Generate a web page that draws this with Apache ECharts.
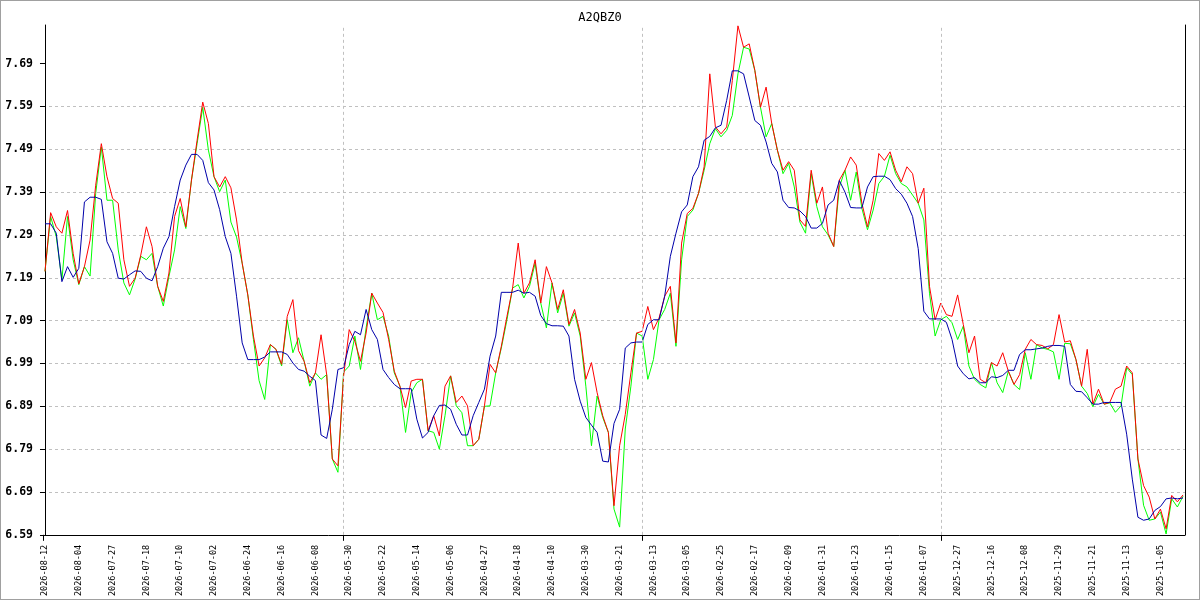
<!DOCTYPE html>
<html>
<head>
<meta charset="utf-8">
<script src="https://cdn.jsdelivr.net/npm/echarts@6/dist/echarts.min.js"></script>
<style>
html,body{margin:0;padding:0;background:#fff;}
#chart{width:1200px;height:600px;box-sizing:border-box;border:1px solid #a0a0a0;}
</style>
</head>
<body>
<div id="chart"></div>
<script>
var chartTitle = 'A2QBZ0';

// x labels, one every 6 points (newest first)
var labelDates = ['2026-08-12','2026-08-04','2026-07-27','2026-07-18','2026-07-10','2026-07-02',
	'2026-06-24','2026-06-16','2026-06-08','2026-05-30','2026-05-22','2026-05-14','2026-05-06',
	'2026-04-27','2026-04-18','2026-04-10','2026-03-30','2026-03-21','2026-03-13','2026-03-05',
	'2026-02-25','2026-02-17','2026-02-09','2026-01-31','2026-01-23','2026-01-15','2026-01-07',
	'2025-12-27','2025-12-16','2025-12-08','2025-11-29','2025-11-21','2025-11-13','2025-11-05'];

// red line
var redLine = [7.205,7.342,7.309,7.294,7.347,7.247,7.176,7.216,7.278,7.406,
	7.503,7.426,7.375,7.364,7.232,7.170,7.189,7.243,7.309,7.263,
	7.170,7.135,7.201,7.333,7.375,7.309,7.418,7.511,7.600,7.550,
	7.426,7.402,7.426,7.400,7.325,7.224,7.150,7.054,6.984,7.003,
	7.034,7.023,6.988,7.100,7.139,7.020,6.995,6.945,6.968,7.057,
	6.964,6.767,6.751,6.960,7.069,7.042,6.995,7.061,7.154,7.131,
	7.109,7.046,6.972,6.937,6.887,6.949,6.953,6.953,6.833,6.868,
	6.821,6.937,6.961,6.899,6.914,6.891,6.798,6.813,6.891,6.988,
	6.968,7.030,7.100,7.166,7.271,7.154,7.178,7.232,7.131,7.216,
	7.178,7.116,7.162,7.081,7.116,7.061,6.953,6.992,6.922,6.868,
	6.829,6.658,6.798,6.871,6.968,7.061,7.065,7.123,7.069,7.096,
	7.147,7.170,7.038,7.271,7.340,7.352,7.387,7.449,7.666,7.542,
	7.526,7.542,7.650,7.778,7.728,7.736,7.674,7.588,7.635,7.550,
	7.488,7.441,7.461,7.441,7.325,7.310,7.441,7.364,7.402,7.294,
	7.263,7.418,7.441,7.472,7.453,7.364,7.309,7.371,7.480,7.464,
	7.484,7.441,7.414,7.449,7.433,7.364,7.399,7.170,7.092,7.131,
	7.104,7.100,7.150,7.081,7.015,7.054,6.953,6.945,6.992,6.984,
	7.015,6.972,6.941,6.964,7.023,7.046,7.034,7.032,7.024,7.034,
	7.104,7.040,7.043,6.999,6.937,7.023,6.895,6.930,6.895,6.899,
	6.930,6.937,6.984,6.968,6.767,6.705,6.678,6.627,6.650,6.604,
	6.682,6.667,6.683];

// green line
var greenLine = [7.205,7.333,7.286,7.185,7.333,7.232,7.174,7.216,7.194,7.387,
	7.495,7.371,7.371,7.255,7.178,7.150,7.187,7.240,7.232,7.247,
	7.170,7.124,7.193,7.255,7.356,7.305,7.418,7.503,7.588,7.488,
	7.426,7.391,7.418,7.320,7.285,7.224,7.150,7.046,6.950,6.906,
	7.034,7.023,6.984,7.092,7.015,7.050,6.995,6.937,6.968,6.953,
	6.964,6.767,6.736,6.970,6.984,7.054,6.976,7.073,7.154,7.092,
	7.100,7.054,6.968,6.937,6.829,6.922,6.945,6.953,6.833,6.829,
	6.790,6.868,6.961,6.891,6.875,6.798,6.798,6.813,6.890,6.891,
	6.968,7.026,7.092,7.166,7.174,7.143,7.170,7.224,7.131,7.073,
	7.178,7.108,7.154,7.077,7.108,7.054,6.937,6.798,6.914,6.864,
	6.829,6.650,6.608,6.837,6.937,7.061,7.054,6.953,6.999,7.092,
	7.116,7.154,7.030,7.232,7.333,7.348,7.387,7.441,7.503,7.538,
	7.519,7.534,7.569,7.666,7.728,7.724,7.674,7.588,7.519,7.550,
	7.488,7.433,7.457,7.402,7.320,7.294,7.433,7.356,7.309,7.290,
	7.263,7.402,7.441,7.371,7.437,7.352,7.302,7.348,7.410,7.427,
	7.476,7.433,7.410,7.402,7.383,7.364,7.325,7.154,7.054,7.092,
	7.100,7.085,7.046,7.077,6.984,6.953,6.941,6.933,6.992,6.945,
	6.922,6.972,6.941,6.929,7.015,6.953,7.034,7.026,7.023,7.017,
	6.953,7.037,7.036,6.999,6.937,6.920,6.889,6.918,6.895,6.898,
	6.876,6.891,6.980,6.964,6.767,6.659,6.624,6.627,6.643,6.592,
	6.674,6.655,6.680];

// blue line
var blueLine = [7.316,7.316,7.294,7.181,7.216,7.191,7.212,7.367,7.378,7.378,
	7.373,7.274,7.247,7.189,7.187,7.197,7.206,7.205,7.189,7.183,
	7.216,7.259,7.286,7.356,7.418,7.453,7.478,7.478,7.464,7.412,
	7.395,7.349,7.286,7.247,7.147,7.038,6.999,6.999,6.999,7.005,
	7.017,7.017,7.017,7.011,6.991,6.976,6.972,6.960,6.950,6.823,
	6.815,6.883,6.976,6.980,7.034,7.065,7.057,7.116,7.069,7.046,
	6.976,6.957,6.941,6.931,6.931,6.931,6.860,6.816,6.829,6.868,
	6.892,6.893,6.883,6.848,6.823,6.823,6.868,6.899,6.930,7.007,
	7.054,7.156,7.156,7.156,7.161,7.154,7.156,7.147,7.102,7.083,
	7.078,7.078,7.077,7.054,6.953,6.902,6.864,6.846,6.829,6.762,
	6.760,6.850,6.883,7.026,7.038,7.040,7.040,7.081,7.092,7.092,
	7.147,7.240,7.294,7.344,7.360,7.426,7.449,7.511,7.520,7.540,
	7.546,7.604,7.673,7.673,7.666,7.612,7.557,7.546,7.507,7.457,
	7.437,7.371,7.354,7.353,7.346,7.333,7.306,7.306,7.317,7.360,
	7.371,7.417,7.390,7.354,7.353,7.353,7.402,7.426,7.427,7.427,
	7.419,7.398,7.385,7.364,7.333,7.258,7.112,7.094,7.094,7.094,
	7.086,7.046,6.984,6.966,6.954,6.957,6.945,6.945,6.959,6.957,
	6.962,6.974,6.974,7.011,7.022,7.022,7.024,7.026,7.030,7.032,
	7.032,7.030,6.941,6.925,6.924,6.910,6.895,6.895,6.899,6.899,
	6.899,6.899,6.825,6.720,6.631,6.624,6.627,6.647,6.656,6.674,
	6.676,6.674,6.676];

var yTicks = [6.59,6.69,6.79,6.89,6.99,7.09,7.19,7.29,7.39,7.49,7.59,7.69];
var vGrid = [53,106,159];   // dotted vertical lines
var yMin = 6.59, yMax = 7.78;
var xMin = -0.355, xMax = 202.355;

var labelPos = [];
for (var k = 0; k < labelDates.length; k++) labelPos.push(k * 6);

function pairs(arr) {
	var out = [];
	for (var i = 0; i < arr.length; i++) out.push([i, arr[i]]);
	return out;
}

var gridColor = '#c0c0c0';
var chart = echarts.init(document.getElementById('chart'));
chart.setOption({
	animation: false,
	backgroundColor: '#fff',
	title: {
		text: chartTitle,
		left: 'center',
		top: 6,
		textStyle: {fontFamily: 'DejaVu Sans Mono', fontSize: 12, fontWeight: 'normal', color: '#000'}
	},
	grid: {left: 42, right: 14, top: 24, bottom: 64, containLabel: false},
	xAxis: {
		type: 'value',
		min: xMin,
		max: xMax,
		axisLine: {show: true, onZero: false, lineStyle: {color: '#000', width: 1}},
		axisTick: {show: true, customValues: [xMin].concat(vGrid), length: 6, lineStyle: {color: '#000'}},
		axisLabel: {
			customValues: labelPos,
			rotate: 90,
			margin: 10,
			fontFamily: 'DejaVu Sans Mono',
			fontSize: 8.5,
			color: '#000',
			formatter: function (v) { return labelDates[Math.round(v / 6)] || ''; }
		},
		splitLine: {show: false}
	},
	yAxis: [{
		type: 'value',
		min: yMin,
		max: yMax,
		interval: 0.1,
		axisLine: {show: true, lineStyle: {color: '#000', width: 1}},
		axisTick: {show: true, customValues: yTicks, length: 5, lineStyle: {color: '#000'}},
		axisLabel: {
			customValues: yTicks,
			margin: 10,
			fontFamily: 'DejaVu Sans Mono',
			fontSize: 11.5,
			fontWeight: 'bold',
			color: '#000',
			formatter: function (v) { return v.toFixed(2); }
		},
		splitLine: {show: true, showMinLine: false, showMaxLine: false,
			lineStyle: {color: gridColor, type: [3, 3], width: 1}}
	}, {
		type: 'value',
		position: 'right',
		min: yMin,
		max: yMax,
		axisLine: {show: true, lineStyle: {color: '#000', width: 1}},
		axisTick: {show: false},
		axisLabel: {show: false},
		splitLine: {show: false}
	}],
	series: [{
		name: 'green',
		type: 'line',
		data: pairs(greenLine),
		showSymbol: false,
		silent: true,
		lineStyle: {color: '#00ff00', width: 1},
		itemStyle: {color: '#00ff00'},
		markLine: {
			silent: true,
			symbol: 'none',
			label: {show: false},
			lineStyle: {color: gridColor, type: [3, 3], width: 1},
			data: vGrid.map(function (v) { return {xAxis: v}; })
		}
	}, {
		name: 'red',
		type: 'line',
		data: pairs(redLine),
		showSymbol: false,
		silent: true,
		lineStyle: {color: '#ff0000', width: 1},
		itemStyle: {color: '#ff0000'}
	}, {
		name: 'blue',
		type: 'line',
		data: pairs(blueLine),
		showSymbol: false,
		silent: true,
		lineStyle: {color: '#0000aa', width: 1},
		itemStyle: {color: '#0000aa'}
	}]
});
</script>
</body>
</html>
